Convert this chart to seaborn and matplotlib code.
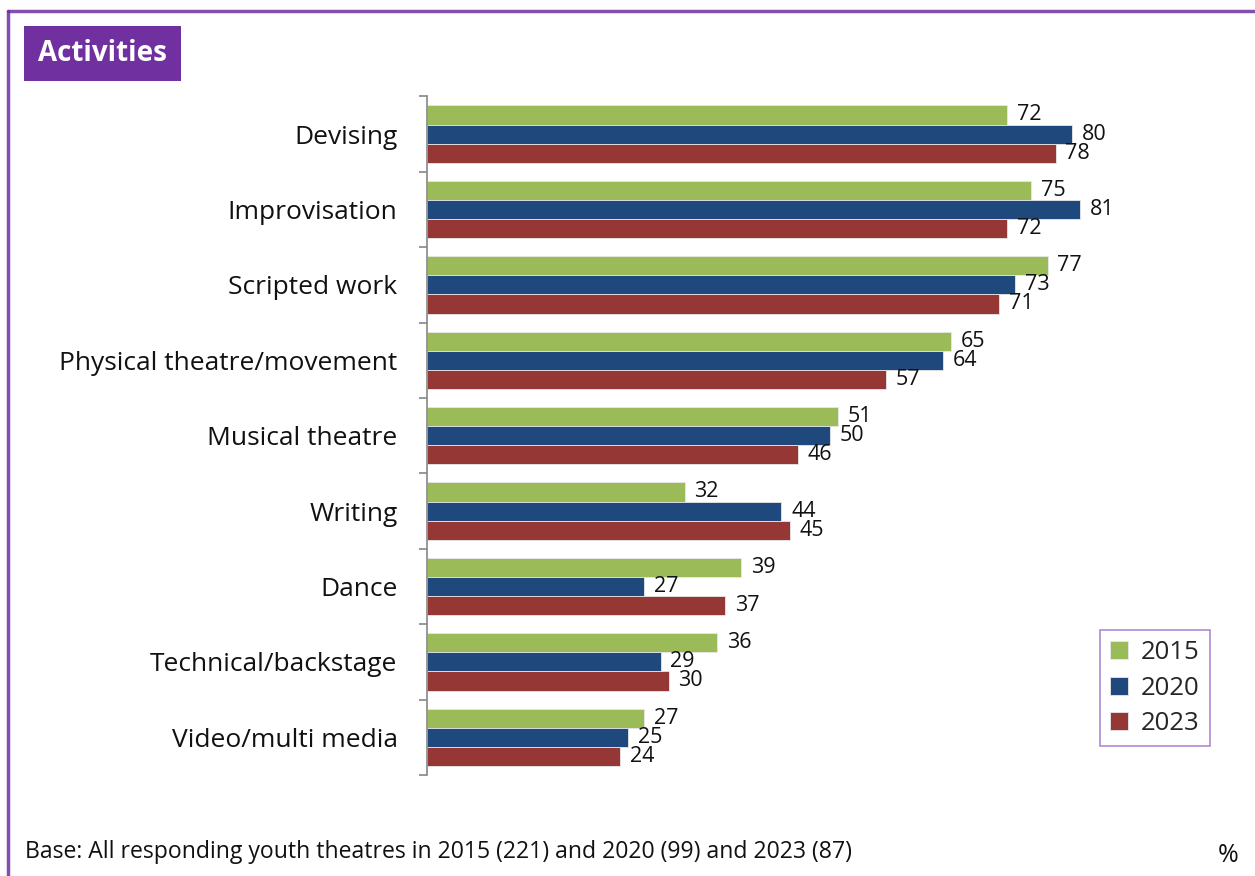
import matplotlib
matplotlib.use("Agg")
import matplotlib.pyplot as plt
from matplotlib.patches import Rectangle
from matplotlib.lines import Line2D
import seaborn as sns
import pandas as pd

categories = ["Devising", "Improvisation", "Scripted work", "Physical theatre/movement",
              "Musical theatre", "Writing", "Dance", "Technical/backstage", "Video/multi media"]
years = ["2015", "2020", "2023"]
vals_2015 = [72, 75, 77, 65, 51, 32, 39, 36, 27]
vals_2020 = [80, 81, 73, 64, 50, 44, 27, 29, 25]
vals_2023 = [78, 72, 71, 57, 46, 45, 37, 30, 24]
colors = ["#9BBB59", "#1F497D", "#953735"]
purple = "#7030A0"

df = pd.DataFrame({
    "Activity": categories * 3,
    "Year": [y for y in years for _ in categories],
    "Percent": vals_2015 + vals_2020 + vals_2023,
})

sns.set_theme(style="white")
plt.rcParams["font.family"] = ["Open Sans", "DejaVu Sans"]

fig = plt.figure(figsize=(12.55, 8.76), dpi=100)
ax = fig.add_axes([0.340, 0.1153, 0.6425, 0.7747])

sns.barplot(data=df, y="Activity", x="Percent", hue="Year", order=categories,
            hue_order=years, palette=colors, saturation=1, orient="h", width=0.76,
            edgecolor="#E8E8E8", linewidth=0.6, ax=ax, errorbar=None)

ax.set_xlim(0, 100)
ax.set_ylim(len(categories) - 0.5, -0.5)
ax.set_xlabel("")
ax.set_ylabel("")
ax.set_xticks([])
for s in ["top", "right", "bottom"]:
    ax.spines[s].set_visible(False)
ax.spines["left"].set_color("#868686")
ax.spines["left"].set_linewidth(1.2)

ax.tick_params(axis="y", which="major", left=False, length=0, pad=21,
               labelsize=19, labelcolor="#111111")
ax.set_yticks([i + 0.5 for i in range(-1, len(categories))], minor=True)
ax.tick_params(axis="y", which="minor", left=True, length=6, width=1.2,
               color="#868686", direction="out")

for cont in ax.containers:
    ax.bar_label(cont, fmt="%d", padding=7, fontsize=15.5, color="#111111")

leg = ax.legend(loc="upper left", bbox_to_anchor=(1100 / 1255, 1 - 630 / 876),
                bbox_transform=fig.transFigure, frameon=True, fontsize=18.5,
                handlelength=0.7, handleheight=0.7, handletextpad=0.5,
                labelspacing=0.4, borderpad=0.4, borderaxespad=0, fancybox=False)
leg.get_frame().set_edgecolor("#9C6BC9")
leg.get_frame().set_linewidth(1.2)

# outer frame (left and top edges)
fig.add_artist(Line2D([8 / 1255, 8 / 1255], [0, 1 - 11 / 876], transform=fig.transFigure,
                      color=purple, linewidth=2.5, alpha=0.85))
fig.add_artist(Line2D([8 / 1255, 1], [1 - 11 / 876, 1 - 11 / 876], transform=fig.transFigure,
                      color=purple, linewidth=2.5, alpha=0.85))

# title badge
fig.add_artist(Rectangle((24 / 1255, 1 - 81 / 876), 157 / 1255, 55 / 876,
                         transform=fig.transFigure, facecolor=purple, edgecolor="none"))
fig.text(102 / 1255, 1 - 53.5 / 876, "Activities", ha="center", va="center",
         color="white", fontsize=20, fontweight="bold")

fig.text(25 / 1255, 1 - 852 / 876, "Base: All responding youth theatres in 2015 (221) and 2020 (99) and 2023 (87)",
         ha="left", va="center", fontsize=16.6, color="#111111")
fig.text(1228 / 1255, 1 - 855 / 876, "%", ha="center", va="center", fontsize=18, color="#111111")

fig.savefig("out.png", dpi=100)
